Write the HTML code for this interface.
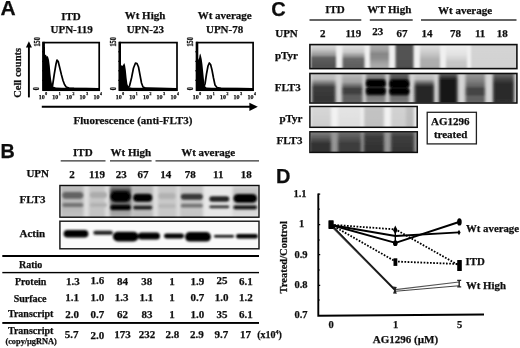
<!DOCTYPE html>
<html><head><meta charset="utf-8">
<style>
html,body{margin:0;padding:0;background:#fff;width:520px;height:348px;overflow:hidden}
svg{display:block}
text{font-family:"Liberation Serif",serif;font-weight:bold;fill:#111;stroke:#111;stroke-width:0.25px}
.sans{font-family:"Liberation Sans",sans-serif;font-weight:bold}
.t11{font-size:11px}
.t10{font-size:10px}
.tk{font-size:5.5px}
.sup{font-size:4px}
</style></head>
<body>
<svg width="520" height="348" viewBox="0 0 520 348">
<defs>
<filter id="bl1" x="-20%" y="-50%" width="140%" height="200%"><feGaussianBlur stdDeviation="1"/></filter>
<filter id="bl2" x="-20%" y="-50%" width="140%" height="200%"><feGaussianBlur stdDeviation="1.6"/></filter>
<filter id="bl3" x="-20%" y="-50%" width="140%" height="200%"><feGaussianBlur stdDeviation="2.4"/></filter>
<clipPath id="cp1"><rect x="60.20" y="185.80" width="198.60" height="31.40"/></clipPath>
<filter id="bf1" x="-10%" y="-30%" width="120%" height="160%"><feGaussianBlur stdDeviation="1.60 0.80"/></filter>
<filter id="bb1" x="-30%" y="-100%" width="160%" height="300%"><feGaussianBlur stdDeviation="1.10"/></filter>
<linearGradient id="lg2" x1="0" y1="183.80" x2="0" y2="219.20" gradientUnits="userSpaceOnUse"><stop offset="0.006" stop-color="#c3c3c3"/><stop offset="0.175" stop-color="#b9b9b9"/><stop offset="0.740" stop-color="#b9b9b9"/><stop offset="0.966" stop-color="#c3c3c3"/></linearGradient>
<linearGradient id="lg3" x1="0" y1="183.80" x2="0" y2="219.20" gradientUnits="userSpaceOnUse"><stop offset="0.006" stop-color="#c8c8c8"/><stop offset="0.966" stop-color="#c3c3c3"/></linearGradient>
<linearGradient id="lg4" x1="0" y1="183.80" x2="0" y2="219.20" gradientUnits="userSpaceOnUse"><stop offset="0.006" stop-color="#aaaaaa"/><stop offset="0.119" stop-color="#787878"/><stop offset="0.203" stop-color="#3c3c3c"/><stop offset="0.740" stop-color="#969696"/><stop offset="0.966" stop-color="#b4b4b4"/></linearGradient>
<linearGradient id="lg5" x1="0" y1="183.80" x2="0" y2="219.20" gradientUnits="userSpaceOnUse"><stop offset="0.006" stop-color="#c3c3c3"/><stop offset="0.175" stop-color="#b9b9b9"/><stop offset="0.966" stop-color="#bebebe"/></linearGradient>
<linearGradient id="lg6" x1="0" y1="183.80" x2="0" y2="219.20" gradientUnits="userSpaceOnUse"><stop offset="0.006" stop-color="#c8c8c8"/><stop offset="0.966" stop-color="#c8c8c8"/></linearGradient>
<linearGradient id="lg7" x1="0" y1="183.80" x2="0" y2="219.20" gradientUnits="userSpaceOnUse"><stop offset="0.006" stop-color="#c8c8c8"/><stop offset="0.966" stop-color="#c6c6c6"/></linearGradient>
<linearGradient id="lg8" x1="0" y1="183.80" x2="0" y2="219.20" gradientUnits="userSpaceOnUse"><stop offset="0.006" stop-color="#e8e8e8"/><stop offset="0.966" stop-color="#e8e8e8"/></linearGradient>
<linearGradient id="lg9" x1="0" y1="183.80" x2="0" y2="219.20" gradientUnits="userSpaceOnUse"><stop offset="0.006" stop-color="#e4e4e4"/><stop offset="0.119" stop-color="#c8c8c8"/><stop offset="0.288" stop-color="#bebebe"/><stop offset="0.740" stop-color="#d4d4d4"/><stop offset="0.966" stop-color="#e1e1e1"/></linearGradient>
<clipPath id="cp10"><rect x="60.20" y="221.40" width="198.60" height="27.40"/></clipPath>
<filter id="bf10" x="-10%" y="-30%" width="120%" height="160%"><feGaussianBlur stdDeviation="1.20 0.60"/></filter>
<filter id="bb10" x="-30%" y="-100%" width="160%" height="300%"><feGaussianBlur stdDeviation="0.90"/></filter>
<clipPath id="cp11"><rect x="310.50" y="45.00" width="206.00" height="23.40"/></clipPath>
<filter id="bf11" x="-10%" y="-30%" width="120%" height="160%"><feGaussianBlur stdDeviation="1.30 0.50"/></filter>
<filter id="bb11" x="-30%" y="-100%" width="160%" height="300%"><feGaussianBlur stdDeviation="1.00"/></filter>
<linearGradient id="lg12" x1="0" y1="43.00" x2="0" y2="70.40" gradientUnits="userSpaceOnUse"><stop offset="0.036" stop-color="#e4e4e4"/><stop offset="0.255" stop-color="#c3c3c3"/><stop offset="0.438" stop-color="#969696"/><stop offset="0.547" stop-color="#5f5f5f"/><stop offset="0.839" stop-color="#505050"/><stop offset="0.949" stop-color="#646464"/></linearGradient>
<linearGradient id="lg13" x1="0" y1="43.00" x2="0" y2="70.40" gradientUnits="userSpaceOnUse"><stop offset="0.036" stop-color="#e8e8e8"/><stop offset="0.328" stop-color="#c8c8c8"/><stop offset="0.474" stop-color="#969696"/><stop offset="0.584" stop-color="#696969"/><stop offset="0.839" stop-color="#5f5f5f"/><stop offset="0.949" stop-color="#6e6e6e"/></linearGradient>
<linearGradient id="lg14" x1="0" y1="43.00" x2="0" y2="70.40" gradientUnits="userSpaceOnUse"><stop offset="0.036" stop-color="#b4b4b4"/><stop offset="0.255" stop-color="#a0a0a0"/><stop offset="0.401" stop-color="#878787"/><stop offset="0.547" stop-color="#8c8c8c"/><stop offset="0.766" stop-color="#a5a5a5"/><stop offset="0.949" stop-color="#afafaf"/></linearGradient>
<linearGradient id="lg15" x1="0" y1="43.00" x2="0" y2="70.40" gradientUnits="userSpaceOnUse"><stop offset="0.036" stop-color="#555555"/><stop offset="0.949" stop-color="#505050"/></linearGradient>
<linearGradient id="lg16" x1="0" y1="43.00" x2="0" y2="70.40" gradientUnits="userSpaceOnUse"><stop offset="0.036" stop-color="#e4e4e4"/><stop offset="0.328" stop-color="#cdcdcd"/><stop offset="0.620" stop-color="#afafaf"/><stop offset="0.949" stop-color="#aaaaaa"/></linearGradient>
<linearGradient id="lg17" x1="0" y1="43.00" x2="0" y2="70.40" gradientUnits="userSpaceOnUse"><stop offset="0.036" stop-color="#f0f0f0"/><stop offset="0.438" stop-color="#e1e1e1"/><stop offset="0.693" stop-color="#c8c8c8"/><stop offset="0.949" stop-color="#c3c3c3"/></linearGradient>
<linearGradient id="lg18" x1="0" y1="43.00" x2="0" y2="70.40" gradientUnits="userSpaceOnUse"><stop offset="0.036" stop-color="#d4d4d4"/><stop offset="0.949" stop-color="#d2d2d2"/></linearGradient>
<clipPath id="cp19"><rect x="310.50" y="74.00" width="206.00" height="28.50"/></clipPath>
<filter id="bf19" x="-10%" y="-30%" width="120%" height="160%"><feGaussianBlur stdDeviation="1.40 0.60"/></filter>
<filter id="bb19" x="-30%" y="-100%" width="160%" height="300%"><feGaussianBlur stdDeviation="0.80"/></filter>
<linearGradient id="lg20" x1="0" y1="72.00" x2="0" y2="104.50" gradientUnits="userSpaceOnUse"><stop offset="0.000" stop-color="#c8c8c8"/><stop offset="0.215" stop-color="#b9b9b9"/><stop offset="0.338" stop-color="#787878"/><stop offset="0.462" stop-color="#3c3c3c"/><stop offset="0.862" stop-color="#343434"/><stop offset="0.985" stop-color="#3c3c3c"/></linearGradient>
<linearGradient id="lg21" x1="0" y1="72.00" x2="0" y2="104.50" gradientUnits="userSpaceOnUse"><stop offset="0.000" stop-color="#c3c3c3"/><stop offset="0.308" stop-color="#a0a0a0"/><stop offset="0.431" stop-color="#696969"/><stop offset="0.523" stop-color="#3e3e3e"/><stop offset="0.646" stop-color="#414141"/><stop offset="0.738" stop-color="#5c5c5c"/><stop offset="0.985" stop-color="#5f5f5f"/></linearGradient>
<linearGradient id="lg22" x1="0" y1="72.00" x2="0" y2="104.50" gradientUnits="userSpaceOnUse"><stop offset="0.000" stop-color="#a5a5a5"/><stop offset="0.185" stop-color="#787878"/><stop offset="0.246" stop-color="#3c3c3c"/><stop offset="0.431" stop-color="#323232"/><stop offset="0.471" stop-color="#5f5f5f"/><stop offset="0.508" stop-color="#323232"/><stop offset="0.677" stop-color="#323232"/><stop offset="0.769" stop-color="#787878"/><stop offset="0.985" stop-color="#969696"/></linearGradient>
<linearGradient id="lg23" x1="0" y1="72.00" x2="0" y2="104.50" gradientUnits="userSpaceOnUse"><stop offset="0.000" stop-color="#737373"/><stop offset="0.185" stop-color="#505050"/><stop offset="0.246" stop-color="#323232"/><stop offset="0.462" stop-color="#2d2d2d"/><stop offset="0.492" stop-color="#505050"/><stop offset="0.523" stop-color="#2d2d2d"/><stop offset="0.677" stop-color="#2d2d2d"/><stop offset="0.769" stop-color="#6e6e6e"/><stop offset="0.985" stop-color="#828282"/></linearGradient>
<linearGradient id="lg24" x1="0" y1="72.00" x2="0" y2="104.50" gradientUnits="userSpaceOnUse"><stop offset="0.000" stop-color="#d2d2d2"/><stop offset="0.215" stop-color="#b9b9b9"/><stop offset="0.369" stop-color="#505050"/><stop offset="0.462" stop-color="#262626"/><stop offset="0.985" stop-color="#282828"/></linearGradient>
<linearGradient id="lg25" x1="0" y1="72.00" x2="0" y2="104.50" gradientUnits="userSpaceOnUse"><stop offset="0.000" stop-color="#7d7d7d"/><stop offset="0.154" stop-color="#3c3c3c"/><stop offset="0.277" stop-color="#121212"/><stop offset="0.985" stop-color="#141414"/></linearGradient>
<linearGradient id="lg26" x1="0" y1="72.00" x2="0" y2="104.50" gradientUnits="userSpaceOnUse"><stop offset="0.000" stop-color="#a0a0a0"/><stop offset="0.246" stop-color="#828282"/><stop offset="0.431" stop-color="#646464"/><stop offset="0.523" stop-color="#444444"/><stop offset="0.677" stop-color="#444444"/><stop offset="0.769" stop-color="#5f5f5f"/><stop offset="0.985" stop-color="#646464"/></linearGradient>
<linearGradient id="lg27" x1="0" y1="72.00" x2="0" y2="104.50" gradientUnits="userSpaceOnUse"><stop offset="0.000" stop-color="#787878"/><stop offset="0.215" stop-color="#464646"/><stop offset="0.369" stop-color="#2a2a2a"/><stop offset="0.985" stop-color="#2d2d2d"/></linearGradient>
<clipPath id="cp28"><rect x="310.50" y="107.30" width="106.50" height="20.00"/></clipPath>
<filter id="bf28" x="-10%" y="-30%" width="120%" height="160%"><feGaussianBlur stdDeviation="1.60 0.60"/></filter>
<filter id="bb28" x="-30%" y="-100%" width="160%" height="300%"><feGaussianBlur stdDeviation="1.00"/></filter>
<linearGradient id="lg29" x1="0" y1="105.30" x2="0" y2="129.30" gradientUnits="userSpaceOnUse"><stop offset="0.029" stop-color="#d7d7d7"/><stop offset="0.946" stop-color="#cdcdcd"/></linearGradient>
<linearGradient id="lg30" x1="0" y1="105.30" x2="0" y2="129.30" gradientUnits="userSpaceOnUse"><stop offset="0.029" stop-color="#e4e4e4"/><stop offset="0.946" stop-color="#dedede"/></linearGradient>
<linearGradient id="lg31" x1="0" y1="105.30" x2="0" y2="129.30" gradientUnits="userSpaceOnUse"><stop offset="0.029" stop-color="#c3c3c3"/><stop offset="0.946" stop-color="#c0c0c0"/></linearGradient>
<linearGradient id="lg32" x1="0" y1="105.30" x2="0" y2="129.30" gradientUnits="userSpaceOnUse"><stop offset="0.029" stop-color="#d2d2d2"/><stop offset="0.946" stop-color="#cdcdcd"/></linearGradient>
<linearGradient id="lg33" x1="0" y1="105.30" x2="0" y2="129.30" gradientUnits="userSpaceOnUse"><stop offset="0.029" stop-color="#bebebe"/><stop offset="0.946" stop-color="#b9b9b9"/></linearGradient>
<clipPath id="cp34"><rect x="310.50" y="132.30" width="106.50" height="19.80"/></clipPath>
<filter id="bf34" x="-10%" y="-30%" width="120%" height="160%"><feGaussianBlur stdDeviation="1.60 0.60"/></filter>
<filter id="bb34" x="-30%" y="-100%" width="160%" height="300%"><feGaussianBlur stdDeviation="1.00"/></filter>
<linearGradient id="lg35" x1="0" y1="130.30" x2="0" y2="154.10" gradientUnits="userSpaceOnUse"><stop offset="0.029" stop-color="#878787"/><stop offset="0.324" stop-color="#5a5a5a"/><stop offset="0.576" stop-color="#303030"/><stop offset="0.954" stop-color="#323232"/></linearGradient>
<linearGradient id="lg36" x1="0" y1="130.30" x2="0" y2="154.10" gradientUnits="userSpaceOnUse"><stop offset="0.029" stop-color="#737373"/><stop offset="0.324" stop-color="#555555"/><stop offset="0.576" stop-color="#3c3c3c"/><stop offset="0.954" stop-color="#3c3c3c"/></linearGradient>
<linearGradient id="lg37" x1="0" y1="130.30" x2="0" y2="154.10" gradientUnits="userSpaceOnUse"><stop offset="0.029" stop-color="#5f5f5f"/><stop offset="0.282" stop-color="#3a3a3a"/><stop offset="0.954" stop-color="#2d2d2d"/></linearGradient>
<linearGradient id="lg38" x1="0" y1="130.30" x2="0" y2="154.10" gradientUnits="userSpaceOnUse"><stop offset="0.029" stop-color="#5f5f5f"/><stop offset="0.282" stop-color="#3e3e3e"/><stop offset="0.954" stop-color="#323232"/></linearGradient>
<filter id="gblur" x="0" y="0" width="100%" height="100%" filterUnits="userSpaceOnUse"><feGaussianBlur stdDeviation="0.35"/></filter>
</defs>
<g filter="url(#gblur)">

<!-- ================= PANEL A ================= -->
<text class="sans" x="0.5" y="15.4" font-size="21">A</text>
<g class="t11" text-anchor="middle">
<text x="71" y="19.6">ITD</text>
<text x="71.6" y="33.3">UPN-119</text>
<text x="145" y="19.4">Wt High</text>
<text x="145.3" y="32.8">UPN-23</text>
<text x="224.7" y="19.2">Wt average</text>
<text x="224.6" y="33.2">UPN-78</text>
</g>
<!-- y arrow -->
<line x1="28.9" y1="46" x2="28.9" y2="97.4" stroke="#000" stroke-width="1.9"/>
<path d="M28.9 41.3 L25.9 47.6 L31.9 47.6 Z" fill="#000"/>
<text transform="translate(21.2,97.8) rotate(-90)" style="font-size:10.5px">Cell counts</text>
<!-- x arrow -->
<line x1="41.8" y1="106.8" x2="250" y2="106.8" stroke="#000" stroke-width="2"/>
<path d="M257.8 106.8 L249.4 102.7 L249.4 110.9 Z" fill="#000"/>
<text class="t11" x="73.5" y="124.3">Fluorescence (anti-FLT3)</text>

<!-- histogram boxes -->
<g id="hbox1">
<rect x="43.2" y="42.6" width="56" height="47.6" fill="none" stroke="#000" stroke-width="1.7"/>
<path d="M43.2 90 L43.2 47 L44.9 47 L44.9 55 L45.2 55 L46 54.5 L46.6 56.5 L47.5 56 L48.3 57.5 L49 60 L49.8 66 L50.5 74 L51.2 80 L52 84 L53 86.5 L56 87.6 L62 87.8 L99 87.9 L99 90.2 Z" fill="#000"/>
<path d="M50.5 88 L52.5 86 L54.3 74 L56 64 L57 60 L58.2 61.5 L59.8 68 L61.5 75 L63 80.5 L64.5 84.5 L66.2 87 L69 88 L74 88.4 L99 88.8" fill="none" stroke="#000" stroke-width="1.7" stroke-linejoin="round"/>
</g>
<g id="hbox2">
<rect x="119.6" y="42.6" width="57.4" height="47.6" fill="none" stroke="#000" stroke-width="1.7"/>
<path d="M119.6 90 L119.6 64 L121 66 L121.8 65 L122.6 66 L123.4 64.5 L124.2 63 L125 65 L125.8 70 L126.6 78 L127.4 84 L128.5 87 L132 87.8 L177 88 L177 90.2 Z" fill="#000"/>
<path d="M127.5 88 L129.5 86 L131.5 78 L133.5 68 L135.5 63 L137 63.5 L138.5 67 L140 75 L141.5 83 L143 87 L146 88.2 L176.8 88.8" fill="none" stroke="#000" stroke-width="1.7" stroke-linejoin="round"/>
</g>
<g id="hbox3">
<rect x="196.6" y="42.6" width="56.5" height="47.6" fill="none" stroke="#000" stroke-width="1.7"/>
<path d="M196.6 90 L196.6 50 L198 58 L198.8 60 L199.6 55 L200.3 53.5 L201 56 L201.7 59 L202.4 64 L203.2 72 L204 80 L204.8 86 L206.5 87.6 L212 87.8 L253 88 L253 90.2 Z" fill="#000"/>
<path d="M203.5 88 L205 84 L206.5 74 L208 66 L209.3 63 L210.6 64.5 L212 70 L213.5 78 L215 85 L217 87.6 L221 88.3 L253.2 88.8" fill="none" stroke="#000" stroke-width="1.7" stroke-linejoin="round"/>
</g>
<!-- thick left edges -->
<rect x="42.3" y="41.8" width="2.6" height="49" fill="#000"/>
<rect x="118.6" y="41.8" width="2.4" height="49" fill="#000"/>
<rect x="195.9" y="41.8" width="2.4" height="49" fill="#000"/>
<!-- y ticks and labels -->
<g stroke="#000" stroke-width="1">
<path d="M42 51.8h1.5M42 61.3h1.5M42 70.8h1.5M42 80.3h1.5"/>
<path d="M118.2 51.8h1.5M118.2 61.3h1.5M118.2 70.8h1.5M118.2 80.3h1.5"/>
<path d="M195.2 51.8h1.5M195.2 61.3h1.5M195.2 70.8h1.5M195.2 80.3h1.5"/>
</g>
<g font-size="6.2">
<text transform="translate(39.7,46.5) rotate(-90) scale(1,1.3)">150</text>
<text transform="translate(116.1,46.5) rotate(-90) scale(1,1.3)">150</text>
<text transform="translate(192.6,46.5) rotate(-90) scale(1,1.3)">150</text>
<text transform="translate(39.3,90.3) rotate(-90) scale(1,1.25)">0</text>
<text transform="translate(115.7,90.3) rotate(-90) scale(1,1.25)">0</text>
<text transform="translate(192.6,90.3) rotate(-90) scale(1,1.25)">0</text>
</g>
<!-- x tick labels -->
<g font-size="6">
<text x="38.7" y="99.2">10<tspan dy="-4" dx="0.6" font-size="3.8">0</tspan></text>
<text x="52.2" y="99.2">10<tspan dy="-4" dx="0.6" font-size="3.8">1</tspan></text>
<text x="66.0" y="99.2">10<tspan dy="-4" dx="0.6" font-size="3.8">2</tspan></text>
<text x="79.6" y="99.2">10<tspan dy="-4" dx="0.6" font-size="3.8">3</tspan></text>
<text x="93.5" y="99.2">10<tspan dy="-4" dx="0.6" font-size="3.8">4</tspan></text>
<text x="115.7" y="99.2">10<tspan dy="-4" dx="0.6" font-size="3.8">0</tspan></text>
<text x="129.2" y="99.2">10<tspan dy="-4" dx="0.6" font-size="3.8">1</tspan></text>
<text x="143.0" y="99.2">10<tspan dy="-4" dx="0.6" font-size="3.8">2</tspan></text>
<text x="156.6" y="99.2">10<tspan dy="-4" dx="0.6" font-size="3.8">3</tspan></text>
<text x="170.5" y="99.2">10<tspan dy="-4" dx="0.6" font-size="3.8">4</tspan></text>
<text x="192.7" y="99.2">10<tspan dy="-4" dx="0.6" font-size="3.8">0</tspan></text>
<text x="206.2" y="99.2">10<tspan dy="-4" dx="0.6" font-size="3.8">1</tspan></text>
<text x="220.0" y="99.2">10<tspan dy="-4" dx="0.6" font-size="3.8">2</tspan></text>
<text x="233.6" y="99.2">10<tspan dy="-4" dx="0.6" font-size="3.8">3</tspan></text>
<text x="247.5" y="99.2">10<tspan dy="-4" dx="0.6" font-size="3.8">4</tspan></text>
</g>

<!-- ================= PANEL B ================= -->
<text class="sans" x="0.4" y="158.4" font-size="19.8">B</text>
<g class="t11" text-anchor="middle">
<text x="82.8" y="156.3">ITD</text>
<text x="130.8" y="156.3">Wt High</text>
<text x="208.2" y="156.3">Wt average</text>
</g>
<g stroke="#333" stroke-width="1.3">
<line x1="60.7" y1="160.8" x2="105.5" y2="160.8"/>
<line x1="110" y1="160.8" x2="151.6" y2="160.8"/>
<line x1="155.5" y1="160.8" x2="259" y2="160.8"/>
</g>
<g class="t11" text-anchor="middle">
<text x="37.7" y="177.4">UPN</text>
<text x="72" y="178">2</text>
<text x="97" y="178">119</text>
<text x="121.2" y="177.6">23</text>
<text x="143" y="178">67</text>
<text x="165.8" y="178">14</text>
<text x="190.3" y="177.6">78</text>
<text x="218.3" y="178">11</text>
<text x="246.3" y="178">18</text>
<text x="32.5" y="203.3">FLT3</text>
<text x="32.3" y="237">Actin</text>
</g>
<!-- FLT3 blot B -->
<g clip-path="url(#cp1)"><rect x="57.20" y="182.80" width="204.60" height="37.40" fill="#dedede"/><g filter="url(#bf1)"><rect x="61.00" y="183.80" width="22.50" height="35.40" fill="url(#lg2)"/><rect x="89.00" y="183.80" width="16.00" height="35.40" fill="url(#lg3)"/><rect x="110.00" y="183.80" width="21.50" height="35.40" fill="url(#lg4)"/><rect x="132.50" y="183.80" width="20.50" height="35.40" fill="url(#lg5)"/><rect x="158.00" y="183.80" width="18.50" height="35.40" fill="url(#lg6)"/><rect x="180.00" y="183.80" width="23.00" height="35.40" fill="url(#lg7)"/><rect x="203.50" y="183.80" width="28.50" height="35.40" fill="url(#lg8)"/><rect x="233.00" y="183.80" width="25.00" height="35.40" fill="url(#lg9)"/></g><g filter="url(#bb1)"><rect x="62.30" y="191.90" width="21.00" height="6.80" rx="3.40" fill="#646464" opacity="1.00"/><rect x="62.30" y="203.00" width="21.00" height="4.00" rx="2.00" fill="#737373" opacity="1.00"/><rect x="90.00" y="192.00" width="17.00" height="6.00" rx="3.00" fill="#acacac" opacity="1.00"/><rect x="90.00" y="203.00" width="17.00" height="4.00" rx="2.00" fill="#b2b2b2" opacity="1.00"/><rect x="110.40" y="191.30" width="20.40" height="10.60" rx="5.30" fill="#000000" opacity="1.00"/><rect x="110.40" y="204.80" width="20.40" height="5.20" rx="2.60" fill="#000000" opacity="1.00"/><rect x="133.10" y="193.80" width="19.20" height="8.00" rx="4.00" fill="#000000" opacity="1.00"/><rect x="133.10" y="205.80" width="19.20" height="3.60" rx="1.80" fill="#1e1e1e" opacity="1.00"/><rect x="158.50" y="193.00" width="17.00" height="6.00" rx="3.00" fill="#b2b2b2" opacity="1.00"/><rect x="158.50" y="204.00" width="17.00" height="4.00" rx="2.00" fill="#b7b7b7" opacity="1.00"/><rect x="180.80" y="193.80" width="22.00" height="6.00" rx="3.00" fill="#373737" opacity="1.00"/><rect x="180.80" y="203.80" width="22.00" height="3.80" rx="1.90" fill="#737373" opacity="1.00"/><rect x="209.30" y="196.30" width="20.00" height="5.40" rx="2.70" fill="#232323" opacity="1.00"/><rect x="209.30" y="205.40" width="20.00" height="2.80" rx="1.40" fill="#2d2d2d" opacity="1.00"/><rect x="233.40" y="194.00" width="23.60" height="8.80" rx="4.40" fill="#000000" opacity="1.00"/><rect x="233.40" y="205.40" width="23.60" height="3.80" rx="1.90" fill="#0a0a0a" opacity="1.00"/></g></g>
<rect x="59.9" y="185.5" width="199.1" height="31.7" fill="none" stroke="#111" stroke-width="1.4"/>
<!-- Actin blot B -->
<g clip-path="url(#cp10)"><rect x="57.20" y="218.40" width="204.60" height="33.40" fill="#fafafa"/><g filter="url(#bf10)"></g><g filter="url(#bb10)"><rect x="63.60" y="229.90" width="24.80" height="7.60" rx="3.80" fill="#000000" opacity="1.00"/><rect x="93.30" y="230.70" width="19.60" height="4.00" rx="2.00" fill="#1e1e1e" opacity="1.00"/><rect x="112.90" y="231.70" width="25.60" height="9.80" rx="4.90" fill="#000000" opacity="1.00"/><rect x="138.00" y="232.60" width="22.00" height="7.00" rx="3.50" fill="#000000" opacity="1.00"/><rect x="164.00" y="233.60" width="20.00" height="4.80" rx="2.40" fill="#000000" opacity="1.00"/><rect x="185.00" y="232.00" width="26.00" height="9.60" rx="4.80" fill="#000000" opacity="1.00"/><rect x="214.00" y="235.00" width="20.00" height="2.60" rx="1.30" fill="#000000" opacity="1.00"/><rect x="236.00" y="234.00" width="22.00" height="4.40" rx="2.20" fill="#000000" opacity="1.00"/></g></g>
<rect x="59.9" y="221.2" width="199.1" height="27.6" fill="none" stroke="#111" stroke-width="1.4"/>

<!-- table -->
<g fill="#000">
<rect x="2.3" y="255" width="256.7" height="2"/>
<rect x="2.3" y="271.9" width="256.7" height="1.4"/>
<rect x="2.3" y="322" width="256.7" height="1.9"/>
</g>
<g class="t10" text-anchor="middle">
<text x="30.7" y="267.6">Ratio</text>
<text x="30.7" y="284.7">Protein</text>
<text x="30.1" y="301.5">Surface</text>
<text x="30.7" y="317.3">Transcript</text>
<text x="30.7" y="333.8">Transcript</text>
<text x="31.1" y="343.8" font-size="8.3">(copy/µgRNA)</text>
</g>
<g class="t11" text-anchor="middle">
<text x="72.9" y="285">1.3</text><text x="97.4" y="284.2">1.6</text><text x="122.6" y="285">84</text><text x="146.8" y="285">38</text>
<text x="172.1" y="285">1</text><text x="197.4" y="285">1.9</text><text x="222.1" y="284.2">25</text><text x="245.9" y="285">6.1</text>
<text x="72" y="301.3">1.1</text><text x="97.4" y="301.3">1.0</text><text x="121.6" y="301.3">1.3</text><text x="146.4" y="301.3">1.1</text>
<text x="172.1" y="301.3">1</text><text x="197.4" y="301.3">0.7</text><text x="221.6" y="301.3">1.0</text><text x="245.9" y="301.3">1.2</text>
<text x="72" y="318">2.0</text><text x="97.4" y="317.6">0.7</text><text x="122.6" y="317.6">62</text><text x="146.9" y="318">83</text>
<text x="172.1" y="318">1</text><text x="197.4" y="318">1.0</text><text x="222.1" y="318">35</text><text x="245.9" y="318">6.1</text>
<text x="71.6" y="338">5.7</text><text x="97.4" y="339.2">2.0</text><text x="122.6" y="338">173</text><text x="146.9" y="338">232</text>
<text x="172.4" y="338">2.8</text><text x="196.8" y="338">2.9</text><text x="221.3" y="338">9.7</text><text x="245.5" y="338">17</text>
</g>
<text x="257.2" y="337.8" font-size="10">(x10<tspan dy="-4" font-size="6">4</tspan><tspan dy="4">)</tspan></text>

<!-- ================= PANEL C ================= -->
<text class="sans" x="271.3" y="16.1" font-size="20">C</text>
<g class="t11" text-anchor="middle">
<text x="335" y="13.1">ITD</text>
<text x="389.2" y="13.1">WT High</text>
<text x="465" y="13.6">Wt average</text>
</g>
<g stroke="#333" stroke-width="1.3">
<line x1="309.5" y1="20" x2="361.3" y2="20"/>
<line x1="369.8" y1="20" x2="412.7" y2="20"/>
<line x1="421" y1="20" x2="516.5" y2="20"/>
</g>
<g class="t11" text-anchor="middle">
<text x="286.5" y="36.7">UPN</text>
<text x="322.7" y="37">2</text>
<text x="353.4" y="37">119</text>
<text x="377.8" y="35">23</text>
<text x="402.1" y="37">67</text>
<text x="427.1" y="37">14</text>
<text x="455.4" y="37">78</text>
<text x="480.1" y="37">11</text>
<text x="502.2" y="37">18</text>
<text x="286.5" y="59">pTyr</text>
<text x="287.7" y="91.2">FLT3</text>
<text x="290.9" y="121.6">pTyr</text>
<text x="289.5" y="144.1">FLT3</text>
<text x="450.3" y="125.4">AG1296</text>
<text x="450.6" y="138">treated</text>
</g>
<!-- C pTyr -->
<g clip-path="url(#cp11)"><rect x="307.50" y="42.00" width="212.00" height="29.40" fill="#f0f0f0"/><g filter="url(#bf11)"><rect x="311.00" y="43.00" width="25.00" height="27.40" fill="url(#lg12)"/><rect x="342.50" y="43.00" width="22.00" height="27.40" fill="url(#lg13)"/><rect x="370.00" y="43.00" width="19.00" height="27.40" fill="url(#lg14)"/><rect x="395.50" y="43.00" width="18.00" height="27.40" fill="url(#lg15)"/><rect x="420.00" y="43.00" width="20.00" height="27.40" fill="url(#lg16)"/><rect x="446.00" y="43.00" width="21.00" height="27.40" fill="url(#lg17)"/><rect x="471.00" y="43.00" width="46.00" height="27.40" fill="url(#lg18)"/></g></g>
<rect x="309.9" y="44.6" width="207" height="24" fill="none" stroke="#111" stroke-width="1.6"/>
<!-- C FLT3 -->
<g clip-path="url(#cp19)"><rect x="307.50" y="71.00" width="212.00" height="34.50" fill="#d4d4d4"/><g filter="url(#bf19)"><rect x="312.00" y="72.00" width="23.50" height="32.50" fill="url(#lg20)"/><rect x="342.00" y="72.00" width="20.50" height="32.50" fill="url(#lg21)"/><rect x="366.00" y="72.00" width="19.50" height="32.50" fill="url(#lg22)"/><rect x="389.50" y="72.00" width="19.50" height="32.50" fill="url(#lg23)"/><rect x="414.50" y="72.00" width="19.50" height="32.50" fill="url(#lg24)"/><rect x="439.00" y="72.00" width="18.50" height="32.50" fill="url(#lg25)"/><rect x="465.50" y="72.00" width="19.50" height="32.50" fill="url(#lg26)"/><rect x="493.00" y="72.00" width="21.00" height="32.50" fill="url(#lg27)"/></g><g filter="url(#bb19)"><rect x="366.10" y="80.00" width="19.60" height="6.80" rx="3.40" fill="#000000" opacity="1.00"/><rect x="366.10" y="87.70" width="19.60" height="6.40" rx="3.20" fill="#000000" opacity="1.00"/><rect x="389.30" y="80.10" width="20.00" height="7.60" rx="3.80" fill="#000000" opacity="1.00"/><rect x="389.30" y="88.30" width="20.00" height="6.00" rx="3.00" fill="#000000" opacity="1.00"/></g></g>
<rect x="309.9" y="73.5" width="207" height="29.5" fill="none" stroke="#111" stroke-width="1.6"/>
<!-- C treated pTyr -->
<g clip-path="url(#cp28)"><rect x="307.50" y="104.30" width="112.50" height="26.00" fill="#f2f2f2"/><g filter="url(#bf28)"><rect x="311.00" y="105.30" width="20.00" height="24.00" fill="url(#lg29)"/><rect x="338.00" y="105.30" width="23.00" height="24.00" fill="url(#lg30)"/><rect x="364.00" y="105.30" width="20.00" height="24.00" fill="url(#lg31)"/><rect x="391.00" y="105.30" width="15.00" height="24.00" fill="url(#lg32)"/><rect x="406.00" y="105.30" width="8.00" height="24.00" fill="url(#lg33)"/></g></g>
<rect x="309.9" y="106.5" width="107.3" height="20.8" fill="none" stroke="#111" stroke-width="1.5"/>
<!-- C treated FLT3 -->
<g clip-path="url(#cp34)"><rect x="307.50" y="129.30" width="112.50" height="25.80" fill="#969696"/><g filter="url(#bf34)"><rect x="310.00" y="130.30" width="21.00" height="23.80" fill="url(#lg35)"/><rect x="338.00" y="130.30" width="23.00" height="23.80" fill="url(#lg36)"/><rect x="364.00" y="130.30" width="20.00" height="23.80" fill="url(#lg37)"/><rect x="391.00" y="130.30" width="23.00" height="23.80" fill="url(#lg38)"/></g></g>
<rect x="309.9" y="131.8" width="107.4" height="20.6" fill="none" stroke="#111" stroke-width="1.5"/>
<rect x="427.2" y="112.3" width="49.2" height="31.6" fill="none" stroke="#222" stroke-width="1.3"/>

<!-- ================= PANEL D ================= -->
<text class="sans" x="276" y="182.8" font-size="20">D</text>
<g font-size="10.5" text-anchor="middle">
<text x="300" y="196.6">1.1</text>
<text x="301.7" y="226.5">1</text>
<text x="301" y="257.7">0.9</text>
<text x="301" y="287.6">0.8</text>
<text x="301" y="318">0.7</text>
<text x="331" y="327.5">0</text>
<text x="395.5" y="327.7">1</text>
<text x="459.7" y="327.7">5</text>
<text x="405.4" y="342.7" style="font-size:11px">AG1296 (µM)</text>
<text transform="translate(287,257.3) rotate(-90)">Treated/Control</text>
</g>
<g font-size="10.8">
<text x="466" y="231.6">Wt average</text>
<text x="465.6" y="264.8">ITD</text>
<text x="466" y="288.5">Wt High</text>
</g>
<path d="M318.3 193.5 V315.8 L484 314.5" fill="none" stroke="#000" stroke-width="1.9"/>
<path d="M318.2 194.2h2M318.2 209.2h1.6M318.2 224.7h2M318.2 240h1.6M318.2 254.7h2M318.2 270h1.6M318.2 285.3h2M318.2 300h1.6" stroke="#000" stroke-width="1.2"/>
<!-- data -->
<g fill="none" stroke-linejoin="round">
<polyline points="331,225 395.5,289.6 459,282" stroke="#555" stroke-width="1.15"/>
<polyline points="331,226 395.5,291.2 459,285.8" stroke="#444" stroke-width="1.15"/>
<line x1="332" y1="225.5" x2="395.5" y2="290.5" stroke="#111" stroke-width="1.2"/>
<polyline points="331,225 395.5,242.8 459,222" stroke="#000" stroke-width="1.9"/>
<polyline points="331,225 395.5,236 459,232.4" stroke="#000" stroke-width="1.9"/>
<polyline points="331,224.7 395.5,229.4 459,265.4" stroke="#000" stroke-width="1.8" stroke-dasharray="1.7 1.5"/>
<polyline points="331,224.7 395.5,261.5 459,264" stroke="#000" stroke-width="1.8" stroke-dasharray="1.7 1.5"/>
</g>
<g fill="#000">
<rect x="328.4" y="220.3" width="5.3" height="8.6" rx="0.6"/>
<path d="M395.3 225.6 L397.6 230.2 L395.3 234.2 L393 230.2 Z"/>
<rect x="394.6" y="228" width="1.4" height="15"/>
<ellipse cx="395.3" cy="243.2" rx="2.3" ry="2.9"/>
<rect x="393.5" y="258.3" width="3.8" height="7.6"/>
<path d="M393 286.5 L396.8 287 L395.6 290 L396.8 293.8 L393 293.5 L394.4 290 Z" fill="#222"/>
<ellipse cx="459.4" cy="221.9" rx="2.3" ry="3.7"/>
<path d="M459 229.7 L460.6 232.5 L459 235.3 L457.4 232.5 Z"/>
<rect x="457.2" y="260" width="4.6" height="11" rx="0.5"/>
<path d="M457.2 279.7h4v1.3h-1.3v5.2h1.3v1.3h-4v-1.3h1.3v-5.2h-1.3z" fill="#222"/>
</g>
</g>
</svg>
</body></html>
